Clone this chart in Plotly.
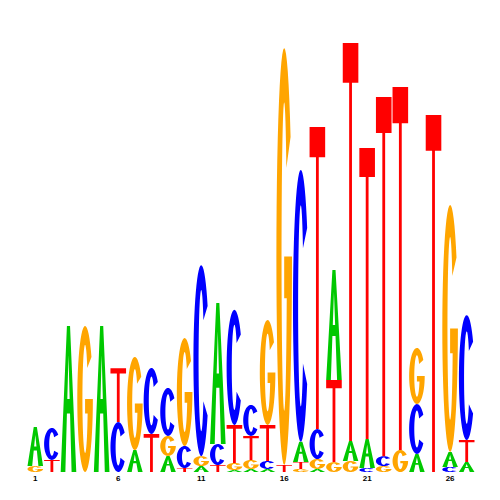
import numpy as np
import plotly.graph_objects as go

# ---- data (heights in bits) ----
positions = list(range(1, 28))
A_bits = [0.177, 0, 0.664, 0, 0.664, 0, 0.100, 0, 0.073, 0, 0.027, 0.641, 0.009, 0.014, 0.014, 0,
          0.091, 0.014, 0.500, 0.091, 0.132, 0, 0, 0.082, 0, 0.068, 0.045]
C_bits = [0, 0.145, 0, 0, 0, 0.227, 0, 0.300, 0.218, 0.100, 0.868, 0.095, 0.523, 0.141, 0.036, 0,
          1.236, 0.136, 0, 0, 0.018, 0.045, 0, 0.227, 0, 0.023, 0.568]
G_bits = [0.027, 0, 0, 0.664, 0, 0, 0.423, 0, 0.091, 0.491, 0.045, 0, 0.032, 0.041, 0.477, 1.895,
          0.014, 0.045, 0.045, 0.050, 0, 0.027, 0.100, 0.255, 0, 1.123, 0]
T_bits = [0, 0.055, 0, 0, 0, 0.245, 0, 0.173, 0, 0.018, 0, 0.032, 0.173, 0.109, 0.164, 0.032,
          0.032, 1.373, 0.373, 1.809, 1.323, 1.632, 1.650, 0, 1.623, 0, 0.100]
tick_positions = [1, 6, 11, 16, 21, 26]
tick_labels = ["1", "6", "11", "16", "21", "26"]

colors = {"A": "#00C800", "C": "#0000FF", "G": "#FFA500", "T": "#FF0000"}


# ---- glyph outlines in a unit box ----
def arc(cx, cy, rx, ry, a0, a1, n=48):
    t = np.radians(np.linspace(a0, a1, n))
    return list(zip(cx + rx * np.cos(t), cy + ry * np.sin(t)))


def glyph(letter):
    if letter == "A":
        outer = [(0, 0), (0.40, 1), (0.60, 1), (1, 0), (0.70, 0), (0.60, 0.40), (0.40, 0.40), (0.30, 0)]
        hole = [(0.425, 0.50), (0.5, 0.80), (0.575, 0.50)]
        return [outer, hole]
    if letter == "T":
        return [[(0, 1), (1, 1), (1, 0.90), (0.59, 0.90), (0.59, 0), (0.41, 0), (0.41, 0.90), (0, 0.90)]]
    rx_i, ry_i = 0.17, 0.37
    if letter == "C":
        pts = arc(0.5, 0.5, 0.5, 0.5, 35, 325) + arc(0.5, 0.5, rx_i, ry_i, 325, 35)
        return [pts]
    # G
    yb = 0.40
    ang = np.degrees(np.arcsin((yb - 0.5) / ry_i)) + 360
    pts = arc(0.5, 0.5, 0.5, 0.5, 35, 360)
    pts += [(1.0, 0.5), (0.5, 0.5), (0.5, yb)]
    pts += arc(0.5, 0.5, rx_i, ry_i, ang, 35)
    return [pts]


def path_for(letter, xc, y0, h, w=0.94):
    parts = []
    for poly in glyph(letter):
        seg = []
        for i, (u, v) in enumerate(poly):
            X = xc - w / 2 + u * w
            Y = y0 + v * h
            seg.append(("M" if i == 0 else "L") + f"{X:.4f},{Y:.5f}")
        parts.append(" ".join(seg) + " Z")
    return " ".join(parts)


shapes = []
for i, pos in enumerate(positions):
    stack = [("A", A_bits[i]), ("C", C_bits[i]), ("G", G_bits[i]), ("T", T_bits[i])]
    stack = sorted([s for s in stack if s[1] > 0], key=lambda s: s[1])
    y0 = 0.0
    for letter, h in stack:
        shapes.append(dict(type="path", xref="x", yref="y", path=path_for(letter, pos, y0, h),
                           fillcolor=colors[letter], line=dict(width=0), fillrule="evenodd",
                           layer="above"))
        y0 += h

fig = go.Figure()
fig.add_trace(go.Scatter(x=positions, y=[0] * len(positions), mode="markers",
                         marker=dict(opacity=0), hoverinfo="skip", showlegend=False))
fig.update_layout(
    width=500, height=500,
    margin=dict(l=19, r=33, t=24, b=36),
    paper_bgcolor="white", plot_bgcolor="white",
    shapes=shapes,
    showlegend=False,
    xaxis=dict(range=[0.5, 27.5], tickvals=tick_positions,
               ticktext=[f"<b>{t}</b>" for t in tick_labels],
               showgrid=False, zeroline=False, showline=False, ticks="",
               tickfont=dict(family="Liberation Sans, Arial", size=8, color="black")),
    yaxis=dict(range=[0, 2], showgrid=False, zeroline=False, showline=False,
               showticklabels=False, ticks=""),
)
fig.write_html("out.html")
